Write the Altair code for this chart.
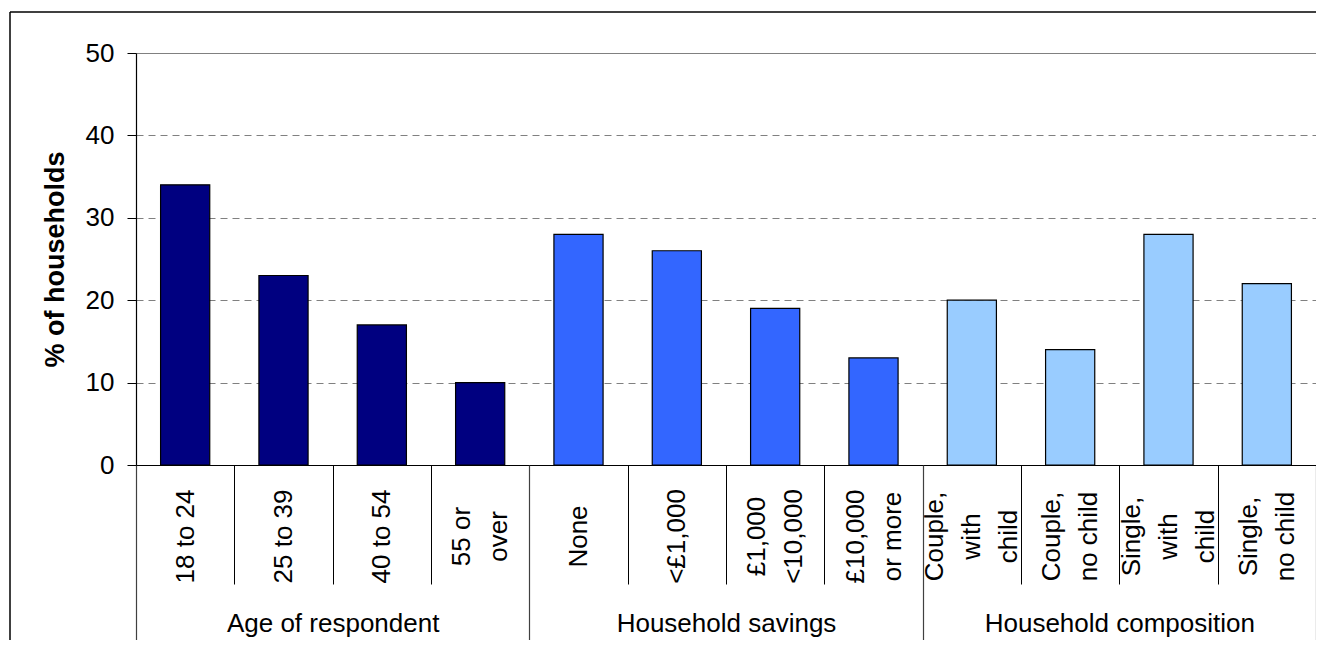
import altair as alt
import pandas as pd

groups = ["Age of respondent"] * 4 + ["Household savings"] * 4 + ["Household composition"] * 4
categories = ["18 to 24", "25 to 39", "40 to 54", "55 or|over",
              "None", "<£1,000", "£1,000|<10,000", "£10,000|or more",
              "Couple,|with|child", "Couple,|no child", "Single,|with|child", "Single,|no child"]
values = [34, 23, 17, 10, 28, 26, 19, 13, 20, 14, 28, 22]
group_order = ["Age of respondent", "Household savings", "Household composition"]
group_colors = ["#000080", "#3366FF", "#99CCFF"]
y_ticks = [0, 10, 20, 30, 40, 50]

df = pd.DataFrame({"group": groups, "category": categories, "value": values})

FONT = "Liberation Sans"
LINE_H = 37

label_offset = {
    "condition": [
        {"test": "length(split(datum.value, '|')) == 2", "value": -LINE_H / 2},
        {"test": "length(split(datum.value, '|')) == 3", "value": -LINE_H},
    ],
    "value": 0,
}

grid_dash = {"condition": {"test": "datum.value == 50", "value": []}, "value": [7, 5]}

bars = alt.Chart(df).mark_bar(width={"band": 0.5}, stroke="black", strokeWidth=1.2).encode(
    x=alt.X("category:N", sort=categories,
            scale=alt.Scale(paddingInner=0, paddingOuter=0),
            axis=alt.Axis(title=None, orient="bottom", labelAngle=270,
                          labelAlign="center", labelBaseline="middle",
                          labelExpr="split(datum.label, '|')",
                          labelLineHeight=LINE_H, labelFontSize=26, labelFont=FONT,
                          labelColor="black", labelOverlap=False, labelLimit=0,
                          labelOffset=label_offset,
                          tickSize=119, tickBand="extent", tickColor="black",
                          tickWidth=1, labelPadding=-48,
                          domainColor="black", domainWidth=1.2)),
    y=alt.Y("value:Q", scale=alt.Scale(domain=[0, 50]),
            axis=alt.Axis(values=y_ticks, title="% of households",
                          titleFontSize=27, titleFontWeight="bold", titleFont=FONT,
                          titleColor="black", titlePadding=16,
                          labelFontSize=26, labelFont=FONT, labelColor="black",
                          labelPadding=13, tickSize=9, tickColor="black",
                          gridDash=grid_dash, gridColor="#808080", gridWidth=1,
                          domainColor="black", domainWidth=1.2)),
    color=alt.Color("group:N", scale=alt.Scale(domain=group_order, range=group_colors),
                    legend=None),
)

grp = alt.Chart(df).mark_point(opacity=0).encode(
    x=alt.X("group:N", sort=group_order,
            scale=alt.Scale(paddingInner=0, paddingOuter=0),
            axis=alt.Axis(title=None, orient="bottom", labelAngle=0,
                          labelFontSize=26, labelFont=FONT, labelColor="black",
                          labelBaseline="alphabetic", labelPadding=-9,
                          labelOverlap=False, labelLimit=0,
                          tickSize=175, tickBand="extent", tickColor="#404040",
                          tickWidth=1.2, domain=False, grid=False)),
    y=alt.value(0),
)

frame_data = pd.DataFrame({"k": [0]})
frame_top = alt.Chart(frame_data).mark_rule(color="black", strokeWidth=1.5).encode(
    x=alt.value(-126), x2=alt.value(1200), y=alt.value(-41))
frame_left = alt.Chart(frame_data).mark_rule(color="black", strokeWidth=1.5).encode(
    x=alt.value(-126), y=alt.value(-41), y2=alt.value(620))

chart = alt.layer(bars, grp, frame_top, frame_left).resolve_scale(x="independent").properties(
    width=1180, height=412,
    autosize=alt.AutoSizeParams(type="none"),
    padding={"left": 128, "top": 45, "right": 0, "bottom": 175},
).configure_view(stroke="#808080", strokeWidth=1.5).configure(background="white")

chart.save("out.html", embed_options={"renderer": "svg", "actions": False})
